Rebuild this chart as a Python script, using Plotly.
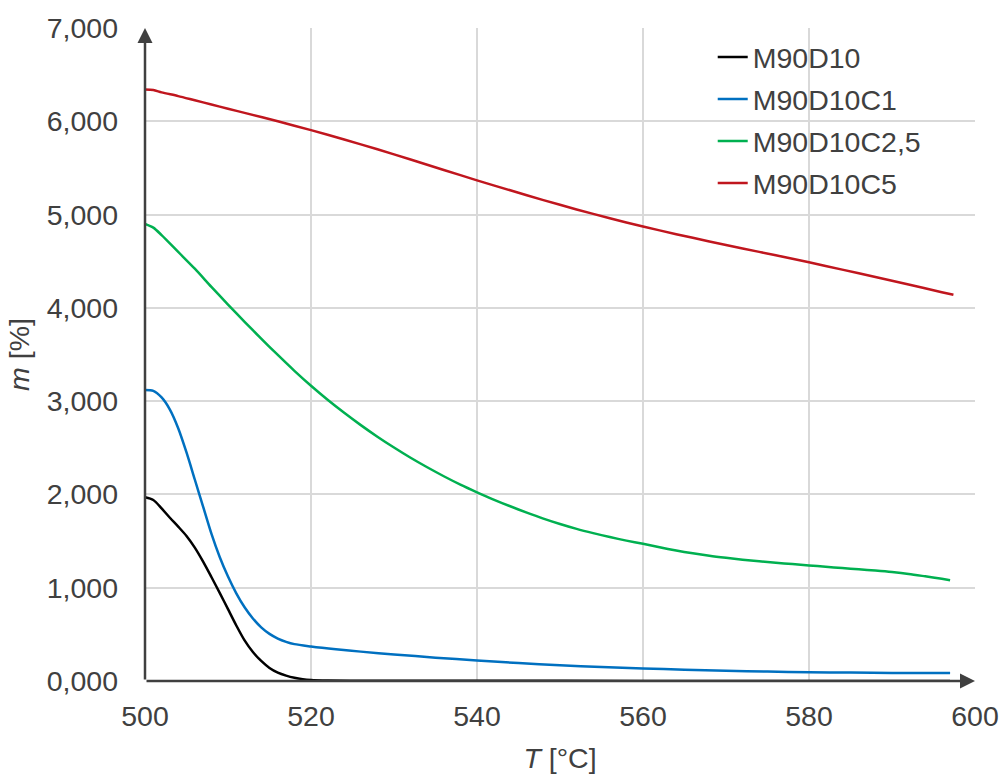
import plotly.graph_objects as go

# ---- data ----
T_m90d10 = [500, 501, 502, 503, 504, 505, 506, 507, 508, 509, 510, 511, 512, 513, 514, 515, 516, 517, 518, 519, 520, 522, 526, 540, 560, 580, 597]
m_m90d10 = [1.97, 1.94, 1.85, 1.75, 1.655, 1.555, 1.43, 1.28, 1.115, 0.945, 0.77, 0.595, 0.435, 0.31, 0.215, 0.14, 0.09, 0.058, 0.035, 0.02, 0.012, 0.006, 0.003, 0.002, 0.001, 0.001, 0.001]

T_m90d10c1 = [500, 501, 502, 503, 504, 505, 506, 507, 508, 509, 510, 511, 512, 513, 514, 515, 516, 517, 518, 520, 523, 526, 530, 535, 540, 545, 550, 555, 560, 565, 570, 575, 580, 585, 590, 597]
m_m90d10c1 = [3.12, 3.11, 3.04, 2.91, 2.71, 2.45, 2.16, 1.87, 1.58, 1.33, 1.12, 0.94, 0.79, 0.67, 0.575, 0.505, 0.455, 0.42, 0.395, 0.37, 0.34, 0.315, 0.285, 0.25, 0.22, 0.192, 0.168, 0.15, 0.135, 0.121, 0.11, 0.101, 0.095, 0.09, 0.087, 0.085]

T_m90d10c25 = [500, 501, 502, 504, 506, 508, 510, 512, 514, 516, 518, 520, 522, 524, 526, 528, 530, 532, 534, 536, 538, 540, 542, 544, 546, 548, 550, 552, 554, 556, 558, 560, 562, 564, 566, 568, 570, 572, 574, 576, 578, 580, 582, 584, 586, 588, 590, 592, 594, 596, 597]
m_m90d10c25 = [4.90, 4.86, 4.78, 4.60, 4.42, 4.225, 4.035, 3.85, 3.67, 3.495, 3.325, 3.165, 3.015, 2.875, 2.743, 2.619, 2.503, 2.393, 2.291, 2.195, 2.105, 2.023, 1.945, 1.873, 1.805, 1.741, 1.683, 1.631, 1.585, 1.543, 1.505, 1.471, 1.433, 1.399, 1.369, 1.343, 1.321, 1.301, 1.283, 1.267, 1.253, 1.239, 1.225, 1.211, 1.198, 1.184, 1.168, 1.148, 1.122, 1.095, 1.08]

T_m90d10c5 = [500, 501, 502, 504, 506, 508, 510, 512, 516, 520, 524, 528, 532, 536, 540, 544, 548, 552, 556, 560, 564, 568, 572, 576, 580, 584, 588, 592, 596, 597.4]
m_m90d10c5 = [6.34, 6.335, 6.31, 6.27, 6.225, 6.18, 6.135, 6.09, 6.0, 5.905, 5.805, 5.70, 5.59, 5.478, 5.367, 5.26, 5.155, 5.055, 4.96, 4.872, 4.79, 4.712, 4.637, 4.563, 4.488, 4.41, 4.33, 4.25, 4.168, 4.14]

series_names = ["M90D10", "M90D10C1", "M90D10C2,5", "M90D10C5"]
series_colors = ["#000000", "#0070C0", "#00B050", "#C0161E"]

x_ticks = [500, 520, 540, 560, 580, 600]
y_ticks = [0, 1, 2, 3, 4, 5, 6, 7]

FONT = "Liberation Sans, Arial, sans-serif"
TXT = "#404040"
FS = 28.5

fig = go.Figure()
for name, color, xs, ys in zip(
    series_names, series_colors,
    [T_m90d10, T_m90d10c1, T_m90d10c25, T_m90d10c5],
    [m_m90d10, m_m90d10c1, m_m90d10c25, m_m90d10c5],
):
    fig.add_trace(go.Scatter(
        x=xs, y=ys, mode="lines", name=name, legendgroup=name,
        line=dict(color=color, width=2.5, shape="spline", smoothing=0.8),
    ))

fig.update_layout(
    width=1004, height=774,
    margin=dict(l=145, r=29, t=28, b=93),
    plot_bgcolor="white", paper_bgcolor="white",
    separators=",.",
    font=dict(family=FONT, size=FS, color=TXT),
    showlegend=True,
    legend=dict(
        x=0.684, y=0.994, xanchor="left", yanchor="top",
        bgcolor="rgba(0,0,0,0)", font=dict(size=FS, color=TXT),
        tracegroupgap=2,
    ),
)
fig.update_xaxes(
    range=[500, 600], tickvals=x_ticks, tickformat="d",
    showgrid=True, gridcolor="#D9D9D9", gridwidth=1.5,
    zeroline=False, showline=False, ticks="", automargin=False,
    ticklabelstandoff=15,
    title=dict(text="<i>T</i> [°C]", font=dict(size=FS, color=TXT), standoff=30),
)
fig.update_yaxes(
    range=[0, 7], tickvals=y_ticks, tickformat=".3f",
    showgrid=True, gridcolor="#D9D9D9", gridwidth=1.5,
    zeroline=False, showline=False, ticks="", automargin=False,
    ticklabelstandoff=26,
    title=dict(text="<i>m</i> [%]", font=dict(size=FS, color=TXT), standoff=8),
)

# axis lines with arrowheads
fig.add_annotation(x=500, y=7, ax=500, ay=0, xref="x", yref="y", axref="x", ayref="y",
                   text="", showarrow=True, arrowhead=2, arrowsize=1.2, arrowwidth=2.5,
                   arrowcolor="#404040")
fig.add_annotation(x=600, y=0, ax=500, ay=0, xref="x", yref="y", axref="x", ayref="y",
                   text="", showarrow=True, arrowhead=2, arrowsize=1.2, arrowwidth=2.5,
                   arrowcolor="#404040")

fig.write_html(
    "out.html",
    config={"displayModeBar": False},
    post_script="document.body.style.margin='0';document.body.style.overflow='hidden';",
)
